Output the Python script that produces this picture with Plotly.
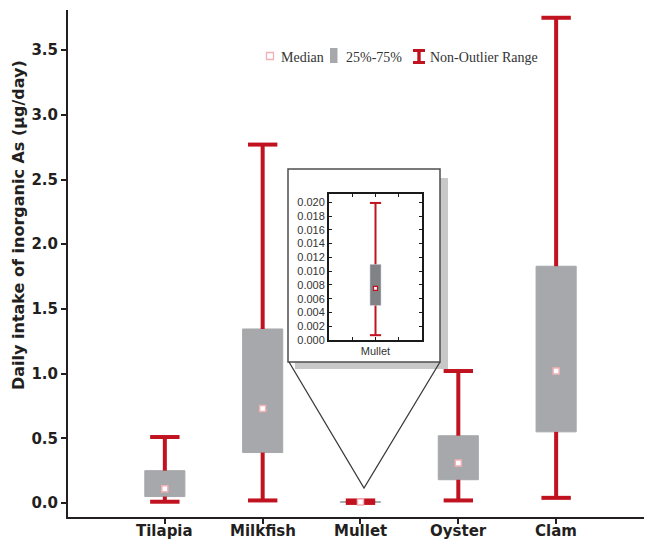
import plotly.graph_objects as go

# ---- data ----
categories = ["Tilapia", "Milkfish", "Mullet", "Oyster", "Clam"]
q1 = [0.05, 0.39, 0.005, 0.18, 0.55]
median = [0.11, 0.73, 0.0075, 0.31, 1.02]
q3 = [0.25, 1.345, 0.011, 0.52, 1.83]
whisk_lo = [0.01, 0.02, 0.0007, 0.02, 0.04]
whisk_hi = [0.51, 2.77, 0.0199, 1.02, 3.75]
y_ticks = [0.0, 0.5, 1.0, 1.5, 2.0, 2.5, 3.0, 3.5]
inset_category = "Mullet"
inset_ticks = [0.000, 0.002, 0.004, 0.006, 0.008, 0.010, 0.012, 0.014, 0.016, 0.018, 0.020]
legend_labels = ["Median", "25%-75%", "Non-Outlier Range"]

RED = "#c1121f"
GRAY = "#a6a8ab"
DARK = "#231f20"

fig = go.Figure()

# main boxes
fig.add_trace(go.Bar(
    x=categories, y=[h - l for h, l in zip(q3, q1)], base=q1, width=0.41,
    marker=dict(color=GRAY, line=dict(color=GRAY, width=1)),
    showlegend=False, xaxis="x", yaxis="y"))

# whiskers (outside the box)
wx, wy = [], []
for c, lo, a, b, hi in zip(categories, whisk_lo, q1, q3, whisk_hi):
    wx += [c, c, None, c, c, None]
    wy += [b, hi, None, lo, a, None]
fig.add_trace(go.Scatter(x=wx, y=wy, mode="lines", line=dict(color=RED, width=4),
                         showlegend=False, hoverinfo="skip"))
# caps
fig.add_trace(go.Scatter(
    x=categories + categories, y=whisk_lo + whisk_hi, mode="markers",
    marker=dict(symbol="line-ew", size=21, line=dict(color=RED, width=4)),
    showlegend=False))
# medians
fig.add_trace(go.Scatter(
    x=categories, y=median, mode="markers",
    marker=dict(symbol="square", size=6, color="white", line=dict(color="#f1b1b6", width=1.5)),
    showlegend=False))

# ---- inset (Mullet) ----
i = categories.index(inset_category)
fig.add_trace(go.Bar(
    x=[0], y=[q3[i] - q1[i]], base=[q1[i]], width=0.24,
    marker=dict(color="#808285"), showlegend=False, xaxis="x2", yaxis="y2"))
fig.add_trace(go.Scatter(
    x=[0, 0, None, 0, 0], y=[q3[i], whisk_hi[i], None, whisk_lo[i], q1[i]],
    mode="lines", line=dict(color=RED, width=2), showlegend=False, xaxis="x2", yaxis="y2"))
fig.add_trace(go.Scatter(
    x=[0, 0], y=[whisk_lo[i], whisk_hi[i]], mode="markers",
    marker=dict(symbol="line-ew", size=8, line=dict(color=RED, width=2)),
    showlegend=False, xaxis="x2", yaxis="y2"))
fig.add_trace(go.Scatter(
    x=[0], y=[median[i]], mode="markers",
    marker=dict(symbol="square", size=4, color="white", line=dict(color=RED, width=1.2)),
    showlegend=False, xaxis="x2", yaxis="y2"))

# ---- layout ----
OFF = 8  # page body margin
W, H = 652 - OFF, 540 - OFF
L, R, T, B = 68 - OFF, 0, 10 - OFF, 23
PW, PH = W - L - R, H - T - B


def px(x):
    return (x - OFF - L) / PW


def py(y):
    return (H - B - (y - OFF)) / PH


shapes = []
# inset shadow and frame
shapes.append(dict(type="rect", xref="paper", yref="paper", layer="below",
                   x0=px(295), x1=px(448), y0=py(369), y1=py(178),
                   fillcolor="#c8c8c8", line=dict(width=0)))
shapes.append(dict(type="rect", xref="paper", yref="paper", layer="below",
                   x0=px(288), x1=px(440), y0=py(362), y1=py(169),
                   fillcolor="white", line=dict(color="#4d4d4d", width=1.5)))
# triangle pointer
shapes.append(dict(type="path", xref="paper", yref="paper", layer="below",
                   path=f"M{px(289)},{py(362)} L{px(364)},{py(488)} L{px(440)},{py(362)}",
                   line=dict(color="#3a3a3a", width=1.3)))
# legend icons
shapes.append(dict(type="rect", xref="paper", yref="paper",
                   x0=px(266.5), x1=px(273.5), y0=py(59.5), y1=py(52.5),
                   fillcolor="white", line=dict(color="#f1b1b6", width=1.3)))
shapes.append(dict(type="rect", xref="paper", yref="paper",
                   x0=px(330), x1=px(337.5), y0=py(63), y1=py(48),
                   fillcolor=GRAY, line=dict(width=0)))
shapes.append(dict(type="rect", xref="paper", yref="paper",
                   x0=px(417.3), x1=px(420.7), y0=py(64), y1=py(49),
                   fillcolor=RED, line=dict(width=0)))
shapes.append(dict(type="rect", xref="paper", yref="paper",
                   x0=px(413), x1=px(425), y0=py(52), y1=py(49),
                   fillcolor=RED, line=dict(width=0)))
shapes.append(dict(type="rect", xref="paper", yref="paper",
                   x0=px(413), x1=px(425), y0=py(64), y1=py(61),
                   fillcolor=RED, line=dict(width=0)))

leg_font = dict(family="Liberation Serif", size=14, color="#333333")
tick_font = dict(family="DejaVu Sans", size=15, color=DARK, weight="bold")
inset_font = dict(family="Liberation Sans", size=11, color="#333333")

annotations = []
for lbl, xs in zip(legend_labels, [279, 344, 428]):
    annotations.append(dict(text=lbl, xref="paper", yref="paper", x=px(xs), y=py(57),
                            xanchor="left", yanchor="middle", showarrow=False, font=leg_font))
annotations.append(dict(text="Daily intake of inorganic As (μg/day)", xref="paper", yref="paper",
                        x=px(19), y=py(225), textangle=-90, showarrow=False,
                        xanchor="center", yanchor="middle",
                        font=dict(family="DejaVu Sans", size=16, color=DARK, weight="bold")))
# category labels placed under their ticks
for c in categories:
    annotations.append(dict(text=c, xref="x", yref="paper", x=c, y=py(531),
                            xanchor="center", yanchor="middle", showarrow=False,
                            font=tick_font))

fig.update_layout(
    width=W, height=H, margin=dict(l=L, r=R, t=T, b=B, pad=0),
    paper_bgcolor="white", plot_bgcolor="white", showlegend=False,
    shapes=shapes, annotations=annotations,
    xaxis=dict(type="category", categoryorder="array", categoryarray=categories,
               range=[-0.99, 4.98], showline=True, linecolor=DARK, linewidth=2,
               ticks="outside", ticklen=5, tickwidth=1.5, tickcolor=DARK,
               showticklabels=False,
               showgrid=False, zeroline=False, tickfont=tick_font, automargin=False),
    yaxis=dict(range=[-0.108, 3.81], tickvals=y_ticks, tickformat=".1f",
               showline=True, linecolor=DARK, linewidth=2,
               ticks="outside", ticklen=5, tickwidth=1.5, tickcolor=DARK,
               showgrid=False, zeroline=False, tickfont=tick_font, automargin=False),
    xaxis2=dict(domain=[px(329), px(422)], anchor="y2", range=[-1, 1],
                tickvals=[-0.5, 0, 0.5], ticktext=["", inset_category, ""],
                showline=True, linecolor="#1a1a1a", linewidth=2, mirror="allticks",
                ticks="inside", ticklen=3, tickwidth=1.2, tickcolor="#1a1a1a",
                showgrid=False, zeroline=False, tickfont=inset_font, automargin=False),
    yaxis2=dict(domain=[py(340), py(194)], anchor="x2", range=[0, 0.0212],
                tickvals=inset_ticks, tickformat=".3f",
                showline=True, linecolor="#1a1a1a", linewidth=2, mirror="allticks",
                ticks="inside", ticklen=3, tickwidth=1.2, tickcolor="#1a1a1a",
                showgrid=False, zeroline=False, tickfont=inset_font, automargin=False),
)

fig.write_html("out.html")
